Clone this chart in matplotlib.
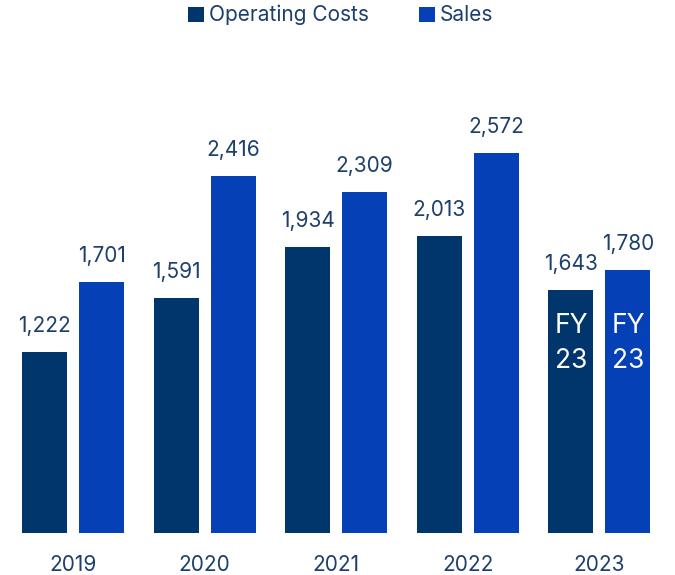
import matplotlib.pyplot as plt
import numpy as np

plt.rcParams['font.family'] = ['Inter', 'DejaVu Sans']

years = ['2019', '2020', '2021', '2022', '2023']
op_costs = [1222, 1591, 1934, 2013, 1643]
sales = [1701, 2416, 2309, 2572, 1780]

dark = '#00366b'
blue = '#0540b6'
txt = '#1d3f6c'

fig = plt.figure(figsize=(6.75, 5.75), dpi=100)
ax = fig.add_axes([0, 0.073, 1, 0.927])

x = np.arange(len(years))
w = 0.342
off = 0.2165
b1 = ax.bar(x - off, op_costs, w, color=dark, label='Operating Costs')
b2 = ax.bar(x + off, sales, w, color=blue, label='Sales')

for bars, vals in [(b1, op_costs), (b2, sales)]:
    for r, v in zip(bars, vals):
        ax.annotate(f'{v:,}', (r.get_x() + r.get_width() / 2, v),
                    xytext=(0, 18.7), textcoords='offset points',
                    ha='center', va='center', fontsize=15, color=txt)

# FY 23 marker inside the 2023 bars
for r in (b1[-1], b2[-1]):
    ax.text(r.get_x() + r.get_width() / 2, 1285, 'FY\n23', ha='center', va='center',
            fontsize=19, color='white', linespacing=1.45)

for xi, yr in zip(x, years):
    ax.annotate(yr, (xi, 0), xytext=(0, -23), textcoords='offset points',
                ha='center', va='center', fontsize=15, color=txt)

ax.set_xlim(-0.555, 4.574)
ax.set_ylim(0, 3607)
ax.axis('off')

leg = fig.legend(loc='upper center', bbox_to_anchor=(0.505, 1.024), ncol=2, frameon=False,
                 fontsize=15, handlelength=0.75, handleheight=0.75, handletextpad=0.25,
                 columnspacing=2.4)
for t in leg.get_texts():
    t.set_color(txt)

fig.savefig('out.png', dpi=100)
